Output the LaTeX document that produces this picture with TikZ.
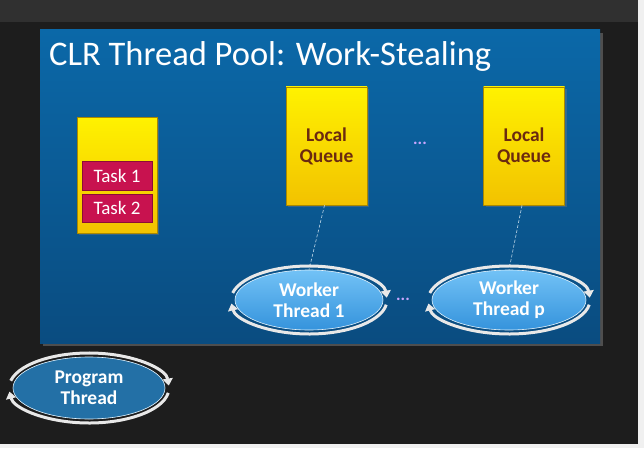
\documentclass[tikz,border=0pt]{standalone}
\usepackage{fontspec}
\setmainfont{Carlito}
\usetikzlibrary{positioning, calc, shapes.geometric, arrows.meta, shadows}

\definecolor{frameDark}{HTML}{1D1D1D}
\definecolor{frameTop}{HTML}{303030}
\definecolor{panelTop}{HTML}{0B68A8}
\definecolor{panelBot}{HTML}{0A4C80}
\definecolor{queueTop}{HTML}{FFF200}
\definecolor{queueBot}{HTML}{F2C200}
\definecolor{queueText}{HTML}{6B2A10}
\definecolor{taskRed}{HTML}{C8124F}
\definecolor{workerTop}{HTML}{72C2F6}
\definecolor{workerBot}{HTML}{3593DC}
\definecolor{progBlue}{HTML}{2370A6}
\definecolor{dotPurple}{HTML}{C9A6FF}

\tikzset{
  queuebox/.style={rectangle, draw=queueBot!70!black, line width=0.6pt,
    top color=queueTop, bottom color=queueBot, minimum width=81pt,
    minimum height=118pt, inner sep=0pt, align=center, text=queueText,
    font=\bfseries\fontsize{19.5}{21}\selectfont,
    drop shadow={opacity=0.35, shadow xshift=2pt, shadow yshift=-2pt}},
  taskbox/.style={rectangle, draw=taskRed!70!black, line width=0.5pt,
    fill=taskRed, minimum width=70pt, minimum height=28pt, inner sep=0pt,
    text=white, font=\fontsize{19}{20}\selectfont},
  threadnode/.style={ellipse, draw=white!80!workerTop, line width=0.6pt,
    top color=workerTop, bottom color=workerBot, minimum width=150pt,
    minimum height=60pt, inner sep=0pt, align=center, text=white,
    font=\bfseries\fontsize{19.5}{21}\selectfont},
  cyclearrow/.style={draw=white!82!gray, line width=3pt,
    -{Triangle[length=7pt,width=10pt]}},
  link/.style={draw=white!75!panelTop, line width=0.6pt, densely dashed},
  moredots/.style={text=dotPurple, font=\bfseries\fontsize{17}{17}\selectfont}
}

\newcommand{\threadcycle}[3]{%
  \draw[cyclearrow] ([shift={(168:#2 and #3)}]#1.center)
    arc[start angle=168, end angle=4, x radius=#2, y radius=#3];
  \draw[cyclearrow] ([shift={(352:#2 and #3)}]#1.center)
    arc[start angle=352, end angle=186, x radius=#2, y radius=#3];}

\begin{document}
\begin{tikzpicture}[x=1pt, y=1pt]
  \useasboundingbox (0,0) rectangle (644,448);
  \fill[white!94!black] (0,0) rectangle (644,448);
  \fill[frameDark] (0,4) rectangle (638,448);
  \fill[frameTop] (0,426) rectangle (638,448);
  \shade[top color=panelTop, bottom color=panelBot,
    drop shadow={opacity=0.5, shadow xshift=3pt, shadow yshift=-3pt}]
    (40,105) rectangle (600,418);

  \node[anchor=base west, text=white, inner sep=0pt,
    font=\fontsize{34.5}{40}\selectfont] (title) at (49,382)
    {CLR Thread Pool: Work-Stealing};

  \node[queuebox, minimum width=80pt, minimum height=116pt] (gq) at (117,273) {};
  \node[taskbox, minimum height=29pt] (task1) at (117,272.5) {Task 1};
  \node[taskbox] (task2) at (117,240) {Task 2};

  \node[queuebox] (lq1) at (326.5,302) {Local\\Queue};
  \node[queuebox] (lq2) at (524,302) {Local\\Queue};
  \node[moredots] (qdots) at (420,305) {...};

  \node[threadnode, minimum width=148pt] (wt1) at (309,148) {Worker\\Thread 1};
  \node[threadnode, minimum width=154pt] (wt2) at (509,148) {Worker\\Thread p};
  \node[moredots] (tdots) at (403,149) {...};

  \node[threadnode, minimum width=152pt, minimum height=62pt,
    fill=progBlue, top color=progBlue, bottom color=progBlue] (pt) at (89,60)
    {Program\\Thread};

  \draw[link] ([xshift=-2pt]lq1.south) -- (wt1.north);
  \draw[link] ([xshift=-2pt]lq2.south) -- (wt2.north);

  \threadcycle{wt1}{78pt}{34pt}
  \threadcycle{wt2}{81pt}{34pt}
  \threadcycle{pt}{80pt}{35pt}
\end{tikzpicture}
\end{document}
